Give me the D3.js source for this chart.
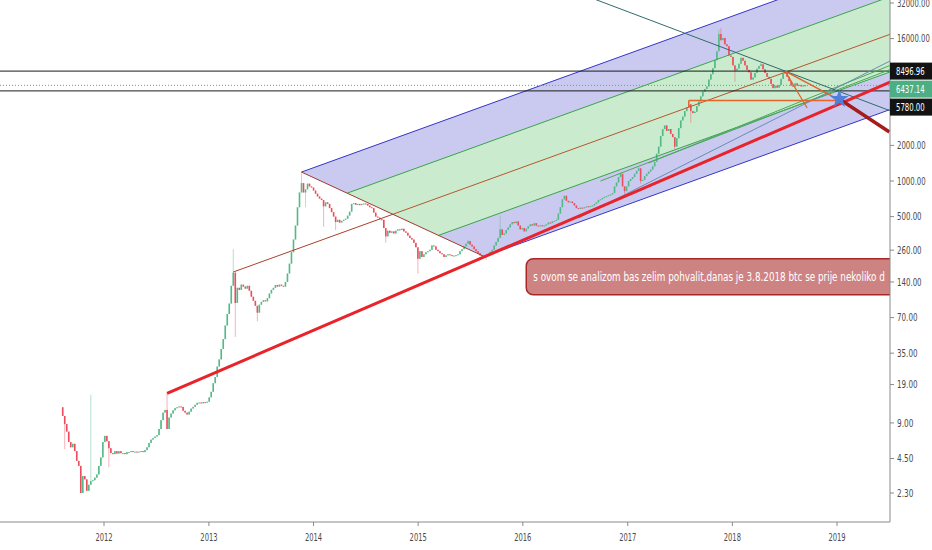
<!DOCTYPE html>
<html>
<head>
<meta charset="utf-8">
<script src="https://cdn.jsdelivr.net/npm/d3@7"></script>
<style>
  html, body { margin: 0; padding: 0; background: #fff; }
  svg text { font-family: "Liberation Sans Narrow", "DejaVu Sans Condensed", "Liberation Sans", sans-serif; }
</style>
</head>
<body>
<svg id="chart" width="932" height="550"></svg>
<script>
// weekly BTCUSD candles, first bar opens the week of 2011-08-10
var firstBar = new Date(2011, 7, 10);
var firstOpen = 12.2;

var close2011 = [10.3, 8.8, 7.6, 6.2, 5.6, 6.0, 5.2, 4.3, 3.9, 2.3, 3.2, 3.0, 2.4, 2.7, 2.9, 2.95, 3.1, 3.3, 3.9, 4.6, 6.2];
var close2012 = [7.0, 6.3, 5.5, 5.0, 4.9, 5.2, 4.95, 5.2, 5.0, 5.0, 4.9, 5.1, 5.1, 5.2, 5.1, 5.15, 5.1, 5.15, 5.2, 5.1,
  5.3, 5.6, 6.1, 6.5, 6.7, 6.9, 7.1, 8.0, 9.5, 11.0, 11.6, 8.0, 10.0, 10.8, 11.5, 12.0, 12.2, 12.4, 12.3, 11.4,
  11.0, 10.6, 11.2, 11.9, 12.3, 12.8, 13.3, 13.4, 13.2, 13.5, 13.4, 13.6];
var close2013 = [14.8, 16.5, 19.5, 22, 27, 31, 38, 46, 60, 75, 92, 130, 168, 93, 125, 120, 133, 128, 123, 130,
  118, 105, 97, 88, 77, 90, 95, 98, 96, 102, 112, 120, 125, 132, 128, 133, 130, 128, 140, 165,
  200, 250, 320, 420, 600, 800, 960, 800, 850, 950, 900, 880, 830];
var close2014 = [780, 740, 710, 690, 610, 660, 640, 590, 545, 500, 450, 470, 445, 460, 470, 480, 510, 550, 640, 650,
  630, 640, 625, 640, 645, 640, 620, 600, 590, 540, 500, 490, 475, 470, 400, 340, 380, 365, 375, 360,
  380, 390, 385, 395, 375, 365, 345, 330, 320, 300, 275];
var close2015 = [220, 255, 228, 240, 250, 255, 262, 285, 280, 262, 255, 245, 240, 228, 235, 240, 236, 232, 234, 236,
  240, 255, 265, 280, 295, 310, 290, 280, 265, 255, 245, 235, 230, 228, 232, 242, 252, 262, 285, 305,
  330, 390, 350, 360, 385, 405, 430, 450, 440, 455, 420, 390, 400];
var close2016 = [375, 395, 415, 430, 420, 440, 420, 418, 422, 415, 420, 430, 445, 440, 455, 460, 470, 530, 600, 700,
  750, 680, 660, 670, 650, 620, 590, 580, 595, 590, 600, 610, 605, 615, 620, 640, 660, 690, 700, 720,
  735, 745, 760, 770, 790, 900, 970, 1080, 1150, 900, 820, 900];
var close2017 = [1000, 1040, 1080, 1150, 1220, 1280, 1000, 1020, 1100, 1150, 1200, 1250, 1330, 1450, 1700, 1950, 2400, 2750, 2950, 2650,
  2750, 2500, 2350, 1950, 2300, 2800, 3250, 3500, 3900, 4200, 4450, 3900, 3750, 3850, 4300, 4700, 5200, 5700, 6000, 6300,
  7200, 8000, 9000, 10500, 12500, 17500, 15500, 16200, 14300, 13800, 11500, 11200];
var close2018 = [9500, 8600, 8900, 9800, 11000, 10400, 9500, 8700, 8300, 7200, 7500, 8200, 8900, 9400, 9700, 8800, 8200, 7600, 7300, 6600,
  6100, 6400, 6150, 6500, 7300, 8100, 8200, 7600, 7000, 6400, 6300, 6700, 6400, 6500, 6300, 6450, 6437.14];

// [bar index, price] for the visible long wicks
var spikeHigh = [[14, 15.6], [52, 16], [85, 265], [119, 1190], [202, 318], [218, 510], [278, 1190], [287, 1320],
  [327, 19000], [328, 19600], [348, 10000], [360, 8500]];
var spikeLow = [[1, 5.4], [23, 3.8], [86, 48], [97, 65], [121, 600], [130, 410], [136, 385], [161, 300], [177, 165],
  [211, 215], [280, 750], [288, 950], [305, 1850], [313, 3100], [335, 6900]];

var priceTicks = [32000, 16000, 2000, 1000, 500, 260, 140, 70, 35, 19, 9, 4.5, 2.3];
var yearTicks = [2012, 2013, 2014, 2015, 2016, 2017, 2018, 2019];
var levelTop = 8496.96, levelBottom = 5780.00, lastPrice = 6437.14;

// drawings, anchors as [bar index, price]
var pfHandle = [85, 170], pfTop = [119, 1190], pfBottom = [210, 230];
var supportLine = [[52, 16], [211, 232]];
var fallLine = [[300, 20600], [360, 8500]];
var blueLine = [[257, 486], [347, 2860]];
var greenLineA = [[268, 1000], [347, 3280]];
var greenLineB = [[292, 1420], [380, 5700]];
var boxLine = [[312, 4800], [387, 4800]];
var boxTick = [[312, 4800], [312, 4230]];
var dropA = [[360, 8500], [371, 4140]];
var dropB = [[360, 8500], [386, 4950]];
var target = [387, 4930];
var bigArrow = [[387, 4930], [412, 2600]];
var noteAnchor = [231, 220];
var noteText = "s ovom se analizom bas zelim pohvalit,danas je 3.8.2018 btc se prije nekoliko d";

var W = 890, H = 522;
var svg = d3.select('#chart');

function barDate(i) { return d3.timeDay.offset(firstBar, Math.round(7 * i)); }

var x = d3.scaleTime()
  .domain([new Date(2012, 0, 1), new Date(2019, 0, 1)])
  .range([104, 837]);
var y = d3.scaleLog()
  .domain([2.3, 32000])
  .range([493, 3]);

function pt(a) { return [x(barDate(a[0])), y(a[1])]; }
function lineAt(p, q, xe) {
  var s = (q[1] - p[1]) / (q[0] - p[0]);
  return [xe, p[1] + s * (xe - p[0])];
}
// narrow axis font: squeeze each label to the width it has in the picture
function fit(sel, dx, perChar) {
  sel.attr('transform', function() {
    var k = this.textContent.length * perChar / this.getComputedTextLength();
    return 'translate(' + dx + ',0) scale(' + k + ',1)';
  });
}

var closes = [].concat(close2011, close2012, close2013, close2014, close2015, close2016, close2017, close2018);
var bars = closes.map(function(c, i) {
  var o = i === 0 ? firstOpen : closes[i - 1];
  return { i: i, date: barDate(i), o: o, c: c, h: Math.max(o, c), l: Math.min(o, c) };
});
spikeHigh.forEach(function(s) { bars[s[0]].h = Math.max(bars[s[0]].h, s[1]); });
spikeLow.forEach(function(s) { bars[s[0]].l = Math.min(bars[s[0]].l, s[1]); });

svg.append('defs').append('clipPath').attr('id', 'plot')
  .append('rect').attr('x', 0).attr('y', 0).attr('width', W).attr('height', H);

var plot = svg.append('g').attr('clip-path', 'url(#plot)');
var line = d3.line();

// pitchfork
var A = pt(pfHandle), B = pt(pfTop), C = pt(pfBottom);
var M = [(B[0] + C[0]) / 2, (B[1] + C[1]) / 2];
var slope = (M[1] - A[1]) / (M[0] - A[0]);
function along(t) { return [B[0] + t * (C[0] - B[0]), B[1] + t * (C[1] - B[1])]; }
function tineEnd(t) { var q = along(t); return [W + 5, q[1] + slope * (W + 5 - q[0])]; }

var zones = [[0, 0.25, 'rgba(60,60,200,0.27)'], [0.25, 0.5, 'rgba(60,180,70,0.27)'],
             [0.5, 0.75, 'rgba(60,180,70,0.27)'], [0.75, 1, 'rgba(60,60,200,0.27)']];
plot.selectAll('path.zone').data(zones).enter().append('path')
  .attr('class', 'zone')
  .attr('d', function(z) { return line([along(z[0]), tineEnd(z[0]), tineEnd(z[1]), along(z[1])]) + 'Z'; })
  .attr('fill', function(z) { return z[2]; });

// candles
var candles = plot.append('g');
candles.selectAll('line').data(bars).enter().append('line')
  .attr('x1', function(d) { return x(d.date); })
  .attr('x2', function(d) { return x(d.date); })
  .attr('y1', function(d) { return y(d.h); })
  .attr('y2', function(d) { return y(d.l); })
  .attr('stroke', function(d) { return d.c >= d.o ? '#53b987' : '#eb4d5c'; })
  .attr('stroke-opacity', 0.55)
  .attr('stroke-width', 0.8);
candles.selectAll('rect').data(bars).enter().append('rect')
  .attr('x', function(d) { return x(d.date) - 0.8; })
  .attr('width', 1.6)
  .attr('y', function(d) { return y(Math.max(d.o, d.c)); })
  .attr('height', function(d) { return Math.max(1, y(Math.min(d.o, d.c)) - y(Math.max(d.o, d.c))); })
  .attr('fill', function(d) { return d.c >= d.o ? '#53b987' : '#eb4d5c'; });

// pitchfork lines
var tines = [[0, '#3535c8'], [0.25, '#3aa44a'], [0.5, '#b5582c'], [0.75, '#3aa44a'], [1, '#3535c8']];
plot.selectAll('path.tine').data(tines).enter().append('path')
  .attr('class', 'tine')
  .attr('d', function(t) { return line([along(t[0]), tineEnd(t[0])]); })
  .attr('fill', 'none').attr('stroke', function(t) { return t[1]; }).attr('stroke-width', 1);
plot.append('path').attr('d', line([A, M])).attr('fill', 'none').attr('stroke', '#a8402c').attr('stroke-width', 1);
plot.append('path').attr('d', line([B, C])).attr('fill', 'none').attr('stroke', '#a33a2a').attr('stroke-width', 1);

// horizontal levels
plot.append('line').attr('x1', 0).attr('x2', W).attr('y1', y(levelTop)).attr('y2', y(levelTop))
  .attr('stroke', '#1a1a1a').attr('stroke-width', 1);
plot.append('line').attr('x1', 0).attr('x2', W).attr('y1', y(levelBottom)).attr('y2', y(levelBottom))
  .attr('stroke', '#1a1a1a').attr('stroke-width', 1);
plot.append('line').attr('x1', 0).attr('x2', W).attr('y1', y(lastPrice)).attr('y2', y(lastPrice))
  .attr('stroke', '#4caf7a').attr('stroke-width', 1).attr('stroke-dasharray', '1,2');

function ray(seg, color, width, both) {
  var p = pt(seg[0]), q = pt(seg[1]);
  var start = both ? lineAt(p, q, -10) : p;
  plot.append('path').attr('d', line([start, lineAt(p, q, W + 10)]))
    .attr('fill', 'none').attr('stroke', color).attr('stroke-width', width);
}
function seg(s, color, width) {
  plot.append('path').attr('d', line([pt(s[0]), pt(s[1])]))
    .attr('fill', 'none').attr('stroke', color).attr('stroke-width', width);
}

ray(greenLineA, '#4aa85a', 1);
ray(greenLineB, '#4aa85a', 1);
ray(blueLine, '#6a8cb5', 1);
ray(fallLine, '#2f6b6b', 1, true);
ray(supportLine, '#e8232a', 3);

seg(boxLine, '#e8622c', 1.5);
seg(boxTick, '#e8622c', 1.5);
seg(dropA, '#e0602e', 1.2);
seg(dropB, '#e0602e', 1.5);
seg(bigArrow, '#a51c1c', 3.5);

var tp = pt(target);
plot.append('path')
  .attr('d', d3.symbol().type(d3.symbolStar).size(110))
  .attr('transform', 'translate(' + tp[0] + ',' + tp[1] + ')')
  .attr('fill', '#4f7fd9');

// annotation box, cut by the price scale like in the picture
var np = pt(noteAnchor);
var note = plot.append('g');
note.append('rect')
  .attr('x', np[0]).attr('y', np[1]).attr('width', 420).attr('height', 36).attr('rx', 7)
  .attr('fill', 'rgba(165,30,30,0.55)').attr('stroke', '#a82828').attr('stroke-width', 1.5);
var nt = svg.append('text')
  .attr('font-size', 13).attr('fill', '#fff')
  .text(noteText);
var squeeze = 352 / nt.node().getComputedTextLength();
nt.attr('transform', 'translate(' + (np[0] + 7) + ',' + (np[1] + 22) + ') scale(' + squeeze + ',1)');

// axes
svg.append('line').attr('x1', 0).attr('x2', W).attr('y1', H).attr('y2', H).attr('stroke', '#8a8a8a');
svg.append('line').attr('x1', W).attr('x2', W).attr('y1', 0).attr('y2', H).attr('stroke', '#8a8a8a');

var yt = svg.append('g').selectAll('g').data(priceTicks).enter().append('g')
  .attr('transform', function(d) { return 'translate(' + W + ',' + y(d) + ')'; });
yt.append('line').attr('x1', 0).attr('x2', 4).attr('stroke', '#8a8a8a');
yt.append('text').attr('dy', '0.35em').attr('font-size', 11).attr('fill', '#4a4a4a')
  .text(function(d) { return d3.format('.2f')(d); })
  .call(fit, 7, 4.1);

var xt = svg.append('g').selectAll('g').data(yearTicks).enter().append('g')
  .attr('transform', function(d) { return 'translate(' + x(new Date(d, 0, 1)) + ',' + H + ')'; });
xt.append('line').attr('y1', 0).attr('y2', 4).attr('stroke', '#8a8a8a');
xt.append('text').attr('y', 19).attr('text-anchor', 'middle').attr('font-size', 11).attr('fill', '#4a4a4a')
  .text(function(d) { return d; })
  .call(fit, 0, 4.3);

// price badges, stacked so they do not overlap
var badges = [[levelTop, '#131313'], [lastPrice, '#4cae82'], [levelBottom, '#131313']];
var lastY = -100;
badges.forEach(function(b) {
  var cy = Math.max(y(b[0]), lastY + 18);
  lastY = cy;
  var g = svg.append('g').attr('transform', 'translate(' + W + ',' + cy + ')');
  g.append('rect').attr('x', 0).attr('y', -8.5).attr('width', 42).attr('height', 17).attr('fill', b[1]);
  g.append('text').attr('dy', '0.35em').attr('font-size', 11).attr('fill', '#fff')
    .text(d3.format('.2f')(b[0]))
    .call(fit, 6, 4.1);
});
</script>
</body>
</html>
